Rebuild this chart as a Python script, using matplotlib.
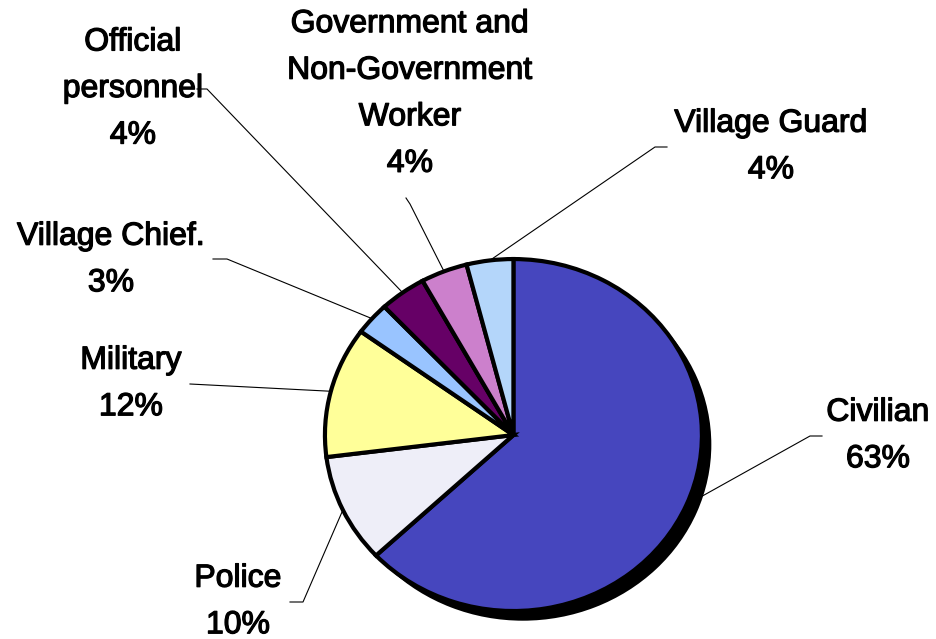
import numpy as np
import matplotlib.pyplot as plt
import matplotlib.patheffects as pe

# data
labels = ["Civilian", "Police", "Military", "Village Chief.", "Official\npersonnel",
          "Government and\nNon-Government\nWorker", "Village Guard"]
shares = [63, 10, 12, 3, 4, 4, 4]
colors = ["#4646BE", "#EEEEF8", "#FFFF99", "#99C4FF", "#660066", "#CC80CC", "#B4D6FA"]

# label block centres and leader line knees, in pixels from the top left
label_pos = [(878, 436), (238, 602), (131, 384), (111, 260), (133, 89), (410, 94), (771, 147)]
knees = [[(822, 436), (810, 436)],
         [(290, 602), (303, 602)],
         [(190, 384)],
         [(213, 259), (227, 259)],
         [(197, 89), (207, 89)],
         [(406, 198), (410, 204)],
         [(667, 147), (655, 147)]]

W, H = 936, 639
fig = plt.figure(figsize=(W / 100, H / 100), dpi=100)
ax = fig.add_axes([0, 0, 1, 1])

# drop shadow
ax.pie([sum(shares)], colors=["black"], center=(0.05, -0.055),
       wedgeprops=dict(linewidth=0))
wedges, _ = ax.pie(shares, startangle=90, counterclock=False, colors=colors,
                   wedgeprops=dict(edgecolor="black", linewidth=3.0))
ax.set_aspect("auto")
ax.set_xlim(-2.724, 2.242)
ax.set_ylim(-1.159, 2.472)
ax.axis("off")

ov = fig.add_axes([0, 0, 1, 1])
ov.set_xlim(0, W)
ov.set_ylim(H, 0)
ov.axis("off")

for w, lab, v, (tx, ty), kn in zip(wedges, labels, shares, label_pos, knees):
    mid = np.deg2rad((w.theta1 + w.theta2) / 2)
    px, py = ax.transData.transform((np.cos(mid), np.sin(mid)))
    pts = kn + [(px, H - py)]
    ov.plot([p[0] for p in pts], [p[1] for p in pts], color="black", lw=0.8)
    ov.text(tx, ty, f"{lab}\n{v}%", ha="center", va="center", fontsize=23,
            family="Liberation Sans", linespacing=1.72,
            path_effects=[pe.withStroke(linewidth=0.9, foreground="black")])

fig.savefig("out.png", dpi=100)
